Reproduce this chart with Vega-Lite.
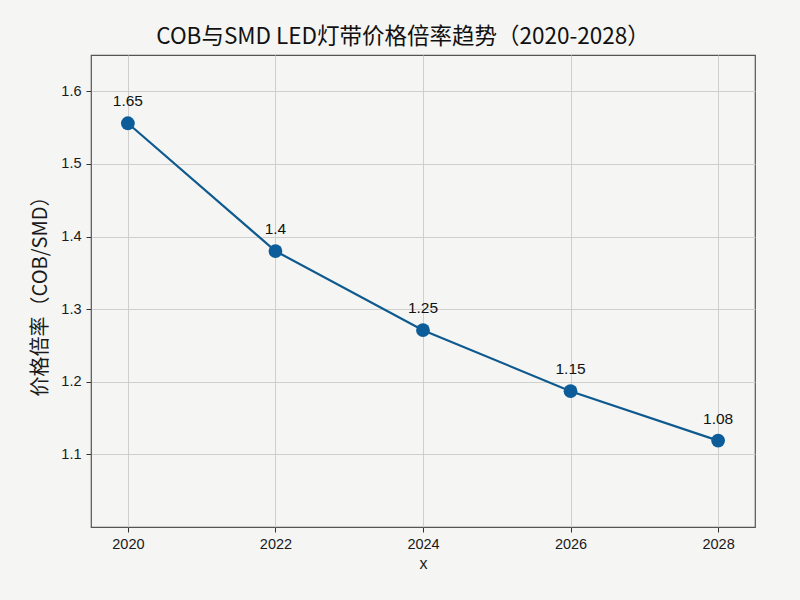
{
  "$schema": "https://vega.github.io/schema/vega-lite/v6.json",
  "autosize": {"type": "none"},
  "width": 664,
  "height": 472,
  "padding": {"left": 91, "top": 55, "right": 45, "bottom": 73},
  "background": "#f5f5f4",
  "title": {
    "text": "COB与SMD LED灯带价格倍率趋势（2020-2028）",
    "font": "Noto Sans CJK SC",
    "fontSize": 22.5,
    "fontWeight": "normal",
    "color": "#111111",
    "anchor": "middle",
    "dx": -20,
    "offset": 7
  },
  "config": {
    "view": {"stroke": "#555555", "strokeWidth": 1.2, "fill": "#f5f5f4"},
    "font": "Liberation Sans",
    "axis": {
      "gridColor": "#cfcfcf",
      "gridWidth": 1,
      "domain": false,
      "tickColor": "#333333",
      "tickSize": 5,
      "labelFont": "Liberation Sans",
      "labelFontSize": 14.5,
      "labelColor": "#1a1a1a",
      "titleFontWeight": "normal",
      "titleColor": "#1a1a1a"
    }
  },
  "data": {
    "values": [
      {"year": 2020, "ratio": 1.556, "label": "1.65"},
      {"year": 2022, "ratio": 1.380, "label": "1.4"},
      {"year": 2024, "ratio": 1.271, "label": "1.25"},
      {"year": 2026, "ratio": 1.187, "label": "1.15"},
      {"year": 2028, "ratio": 1.119, "label": "1.08"}
    ]
  },
  "encoding": {
    "x": {
      "field": "year",
      "type": "quantitative",
      "scale": {"domain": [2019.5, 2028.5], "nice": false, "zero": false},
      "axis": {
        "values": [2020, 2022, 2024, 2026, 2028],
        "format": "d",
        "title": "x",
        "titleFont": "Liberation Sans",
        "titleFontSize": 16,
        "titlePadding": 5,
        "labelPadding": 5
      }
    },
    "y": {
      "field": "ratio",
      "type": "quantitative",
      "scale": {"domain": [1.0, 1.65], "nice": false, "zero": false},
      "axis": {
        "values": [1.1, 1.2, 1.3, 1.4, 1.5, 1.6],
        "format": ".1f",
        "title": "价格倍率（COB/SMD）",
        "titleFont": "Noto Sans CJK SC",
        "titleFontSize": 20,
        "titlePadding": 10,
        "labelPadding": 5
      }
    }
  },
  "layer": [
    {"mark": {"type": "line", "color": "#0e5a8f", "strokeWidth": 2.2}},
    {"mark": {"type": "point", "filled": true, "opacity": 1, "color": "#0b5c99", "size": 190}},
    {
      "mark": {"type": "text", "dy": -22, "fontSize": 15.5, "color": "#111111", "font": "Liberation Sans"},
      "encoding": {"text": {"field": "label"}}
    }
  ]
}
